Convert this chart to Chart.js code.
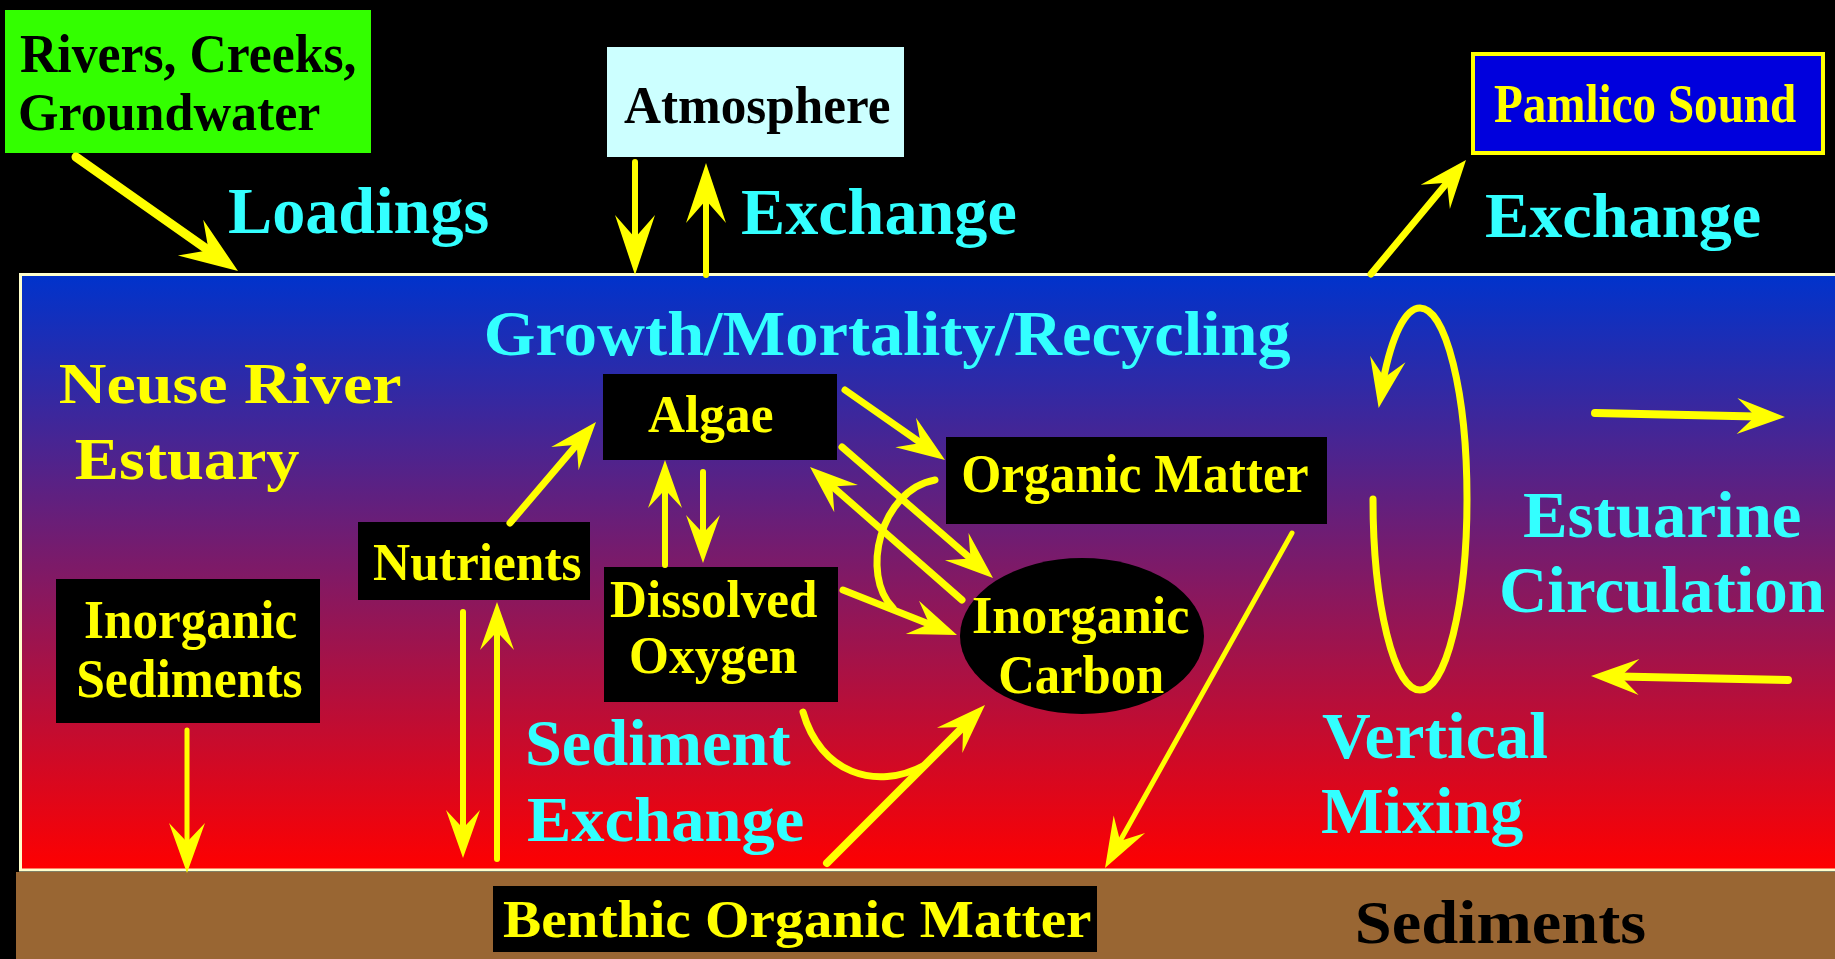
<!DOCTYPE html>
<html>
<head>
<meta charset="utf-8">
<script src="https://cdn.jsdelivr.net/npm/chart.js@4/dist/chart.umd.min.js"></script>
<style>
  html, body { margin: 0; padding: 0; background: #000; overflow: hidden; }
  canvas { display: block; }
</style>
</head>
<body>
<canvas id="diagram" width="1835" height="959"></canvas>
<script>
// ---- diagram content ----
const boxNames = ['Rivers, Creeks,', 'Groundwater', 'Atmosphere', 'Pamlico Sound', 'Algae', 'Nutrients',
  'Dissolved', 'Oxygen', 'Organic Matter', 'Inorganic', 'Sediments', 'Inorganic', 'Carbon',
  'Benthic Organic Matter'];
const processNames = ['Loadings', 'Exchange', 'Exchange', 'Growth/Mortality/Recycling', 'Sediment',
  'Exchange', 'Vertical', 'Mixing', 'Estuarine', 'Circulation'];
const regionNames = ['Neuse River', 'Estuary', 'Sediments'];

// flow arrows (diagram units, origin top-left)
const arrowFrom = [[76, 157], [635, 162], [706, 275], [1371, 274], [510, 523], [703, 472], [665, 565],
  [845, 390], [842, 447], [962, 600], [843, 590], [463, 612], [497, 859], [187, 730], [827, 863],
  [1292, 533], [1595, 413], [1788, 680]];
const arrowTo = [[238, 271], [635, 275], [706, 163], [1466, 160], [596, 422], [703, 563], [665, 460],
  [945, 460], [993, 578], [810, 467], [957, 635], [463, 858], [497, 602], [187, 873], [985, 705],
  [1105, 868], [1785, 417], [1591, 676]];

// ---- layout / styles ----
const YELLOW = '#FFFF00', CYAN = '#33FFFF', BLACK = '#000000';
const arrowWidth = [9, 6, 6, 7, 7, 6, 6, 7, 7, 7, 7, 6, 6, 5, 8, 5, 8, 8];
const arrowHead = [[58, 22], [60, 20], [60, 20], [48, 19], [48, 18], [48, 17], [48, 17], [48, 18],
  [48, 18], [48, 18], [48, 18], [48, 17], [48, 17], [50, 18], [50, 18], [50, 18], [48, 18], [48, 18]];

// [left, right, baseline, capHeight, colour]
const boxTextPos = [[20, 355, 72, 36, BLACK], [20, 320, 130, 35, BLACK], [624, 890, 123, 35, BLACK],
  [1494, 1796, 122, 36, YELLOW], [648, 773, 432, 35, YELLOW], [374, 581, 580, 35, YELLOW],
  [610, 817, 617, 35, YELLOW], [631, 797, 673, 35, YELLOW], [963, 1308, 492, 37, YELLOW],
  [85, 296, 638, 36, YELLOW], [78, 302, 697, 37, YELLOW], [973, 1189, 633, 35, YELLOW],
  [1000, 1164, 693, 36, YELLOW], [503, 1091, 937, 35, YELLOW]];
const processTextPos = [[229, 488, 233, 43], [742, 1016, 234, 43], [1486, 1760, 237, 42],
  [487, 1291, 355, 42], [528, 791, 765, 43], [528, 803, 841, 42], [1322, 1547, 758, 43],
  [1322, 1523, 833, 43], [1524, 1800, 537, 44], [1502, 1824, 612, 44]];
const regionTextPos = [[60, 401, 403, 38, YELLOW], [76, 299, 479, 39, YELLOW], [1358, 1645, 943, 41, BLACK]];

// [x0, y0, x1, y1, fill, stroke]
const boxRects = [[5, 10, 371, 153, '#33FF00', null], [607, 47, 904, 157, '#CCFFFF', null],
  [1471, 52, 1825, 155, '#0000DD', YELLOW], [603, 374, 837, 460, BLACK, null],
  [358, 522, 590, 600, BLACK, null], [604, 567, 838, 702, BLACK, null],
  [946, 437, 1327, 524, BLACK, null], [56, 579, 320, 723, BLACK, null],
  [493, 886, 1097, 952, BLACK, null]];

const diagram = {
  id: 'diagram',
  beforeDatasetsDraw(chart) {
    const { ctx, scales: { x, y } } = chart;
    const X = (v) => x.getPixelForValue(v);
    const Y = (v) => y.getPixelForValue(v);
    ctx.save();
    ctx.fillStyle = '#000';
    ctx.fillRect(0, 0, chart.width, chart.height);

    // estuary water column
    const g = ctx.createLinearGradient(0, Y(274), 0, Y(871));
    g.addColorStop(0, '#0033CC');
    g.addColorStop(1, '#FF0000');
    ctx.fillStyle = g;
    ctx.fillRect(X(19), Y(274), X(1840) - X(19), Y(871) - Y(274));
    ctx.strokeStyle = '#FFFFCC';
    ctx.lineWidth = 3;
    ctx.strokeRect(X(20.5), Y(274.5), X(1840) - X(20.5), Y(870) - Y(274.5));

    // sediment layer
    ctx.fillStyle = '#996633';
    ctx.fillRect(X(16), Y(872), X(1835) - X(16), Y(959) - Y(872));

    boxRects.forEach(([x0, y0, x1, y1, fill, stroke]) => {
      ctx.fillStyle = fill;
      ctx.fillRect(X(x0), Y(y0), X(x1) - X(x0), Y(y1) - Y(y0));
      if (stroke) {
        ctx.strokeStyle = stroke;
        ctx.lineWidth = 4;
        ctx.strokeRect(X(x0) + 2, Y(y0) + 2, X(x1) - X(x0) - 4, Y(y1) - Y(y0) - 4);
      }
    });

    // inorganic carbon pool
    ctx.fillStyle = BLACK;
    ctx.beginPath();
    ctx.ellipse(X(1082), Y(636), X(1204) - X(1082), Y(714) - Y(636), 0, 0, Math.PI * 2);
    ctx.fill();

    const drawText = (txt, [x0, x1, base, cap, color]) => {
      ctx.font = `bold ${cap / 0.662}px "Liberation Serif", "Times New Roman", serif`;
      const m = ctx.measureText(txt);
      const ink = m.actualBoundingBoxLeft + m.actualBoundingBoxRight;
      const sx = (X(x1) - X(x0)) / ink;
      ctx.save();
      ctx.translate(X(x0) + m.actualBoundingBoxLeft * sx, Y(base));
      ctx.scale(sx, 1);
      ctx.fillStyle = color;
      ctx.textAlign = 'left';
      ctx.textBaseline = 'alphabetic';
      ctx.fillText(txt, 0, 0);
      ctx.restore();
    };
    boxNames.forEach((t, i) => drawText(t, boxTextPos[i]));
    processNames.forEach((t, i) => drawText(t, [...processTextPos[i], CYAN]));
    regionNames.forEach((t, i) => drawText(t, regionTextPos[i]));
    ctx.restore();
  },
  afterDatasetsDraw(chart) {
    const { ctx, scales: { x, y } } = chart;
    const X = (v) => x.getPixelForValue(v);
    const Y = (v) => y.getPixelForValue(v);
    ctx.save();
    ctx.fillStyle = YELLOW;
    ctx.strokeStyle = YELLOW;
    ctx.lineCap = 'round';

    const head = (fx, fy, tx, ty, len, half) => {
      const dx = tx - fx, dy = ty - fy, d = Math.hypot(dx, dy);
      const ux = dx / d, uy = dy / d, nx = -uy, ny = ux;
      ctx.beginPath();
      ctx.moveTo(tx, ty);
      ctx.lineTo(tx - ux * len + nx * half, ty - uy * len + ny * half);
      ctx.lineTo(tx - ux * len * 0.62, ty - uy * len * 0.62);
      ctx.lineTo(tx - ux * len - nx * half, ty - uy * len - ny * half);
      ctx.closePath();
      ctx.fill();
    };
    arrowTo.forEach((q, i) => {
      const p = arrowFrom[i];
      head(X(p[0]), Y(p[1]), X(q[0]), Y(q[1]), arrowHead[i][0], arrowHead[i][1]);
    });

    // recycling curves joining other arrows
    ctx.lineWidth = 7;
    ctx.beginPath();
    ctx.moveTo(X(935), Y(480));
    ctx.bezierCurveTo(X(880), Y(490), X(860), Y(575), X(893), Y(608));
    ctx.stroke();
    ctx.beginPath();
    ctx.moveTo(X(803), Y(712));
    ctx.bezierCurveTo(X(820), Y(772), X(875), Y(792), X(925), Y(765));
    ctx.stroke();

    // vertical mixing loop
    const cx = X(1420), cy = Y(499), rx = X(1467) - X(1420), ry = Y(690) - Y(499);
    const tipA = -Math.PI + 0.496;
    ctx.beginPath();
    ctx.ellipse(cx, cy, rx, ry, 0, Math.PI, tipA + 0.17, true);
    ctx.stroke();
    const ptA = (a) => [cx + rx * Math.cos(a), cy + ry * Math.sin(a)];
    const [bx, by] = ptA(tipA + 0.3);
    const [tx, ty] = ptA(tipA);
    head(bx, by, tx, ty, 50, 18);
    ctx.restore();
  }
};

const datasets = arrowFrom.map((p, i) => {
  const q = arrowTo[i];
  const dx = q[0] - p[0], dy = q[1] - p[1], d = Math.hypot(dx, dy);
  const back = arrowHead[i][0] * 0.6;
  return {
    data: [{ x: p[0], y: p[1] }, { x: q[0] - dx / d * back, y: q[1] - dy / d * back }],
    showLine: true,
    borderColor: YELLOW,
    borderWidth: arrowWidth[i],
    borderCapStyle: 'round',
    pointRadius: 0,
    clip: false,
  };
});

new Chart(document.getElementById('diagram'), {
  type: 'scatter',
  data: { datasets },
  options: {
    responsive: false,
    animation: false,
    events: [],
    layout: { padding: 0 },
    plugins: { legend: { display: false }, tooltip: { enabled: false } },
    scales: {
      x: { type: 'linear', min: 0, max: 1835, display: false },
      y: { type: 'linear', min: 0, max: 959, reverse: true, display: false },
    },
  },
  plugins: [diagram],
});
</script>
</body>
</html>
